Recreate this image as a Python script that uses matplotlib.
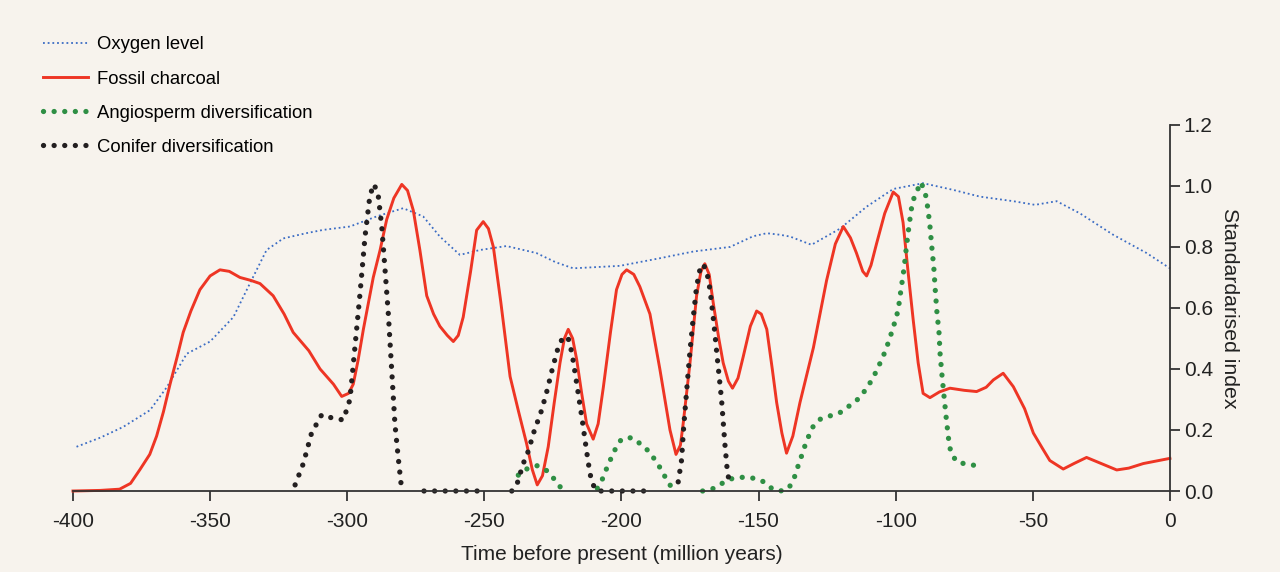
import numpy as np
import matplotlib.pyplot as plt

plt.rcParams['font.family'] = ['Liberation Sans', 'DejaVu Sans']

nan = np.nan

# Oxygen level (blue dotted)
oxy_x = [-398.7, -390, -381.7, -371.9, -365.8, -358.5, -350, -341.5, -335.5, -329.4,
         -323.3, -315, -308.7, -299, -289.3, -279.6, -272.3, -266.2, -258.9, -251.6,
         -241.9, -231, -224, -217.6, -200.6, -186, -173.8, -160.4, -152, -147,
         -142.2, -138.5, -130.7, -120.3, -110.6, -100.9, -90, -79, -69.3, -57.1,
         -49.2, -41.3, -32.8, -20.7, -8.5, 0]
oxy_y = [0.145, 0.175, 0.21, 0.265, 0.34, 0.45, 0.49, 0.57, 0.68, 0.79,
         0.828, 0.845, 0.856, 0.867, 0.90, 0.927, 0.90, 0.834, 0.774, 0.79,
         0.803, 0.78, 0.75, 0.73, 0.738, 0.763, 0.785, 0.80, 0.835, 0.845,
         0.84, 0.834, 0.807, 0.86, 0.932, 0.99, 1.009, 0.987, 0.965, 0.95,
         0.938, 0.95, 0.91, 0.84, 0.78, 0.73]

# Fossil charcoal (red)
char_x = [-400, -390, -383, -379, -375.6, -372, -369.5, -367, -364.6, -362,
          -359.8, -357, -353.7, -350, -346.4, -343, -339.1, -335, -331.8, -327,
          -323, -319.7, -314, -309.9, -305, -302, -299.5, -297.8, -296, -294.1,
          -290.5, -288, -285.6, -283, -280.1, -278, -275.9, -273.5, -271, -268.5,
          -266.2, -263.5, -261.3, -259.5, -257.7, -255, -252.8, -250.4, -248.5, -246.7,
          -244, -240.6, -237.5, -234.6, -232.5, -230.7, -228.8, -226.7, -224.5, -222.4,
          -220.8, -219.4, -217.8, -216.3, -214.5, -212.7, -210.3, -208.5, -206.6, -204,
          -201.8, -199.8, -198.1, -195.5, -193.3, -189.6, -186, -182.3, -180.1, -178.5,
          -177.5, -175, -172.6, -171, -169.6, -168, -166.5, -164.5, -162.9, -161,
          -159.5, -157.5, -155.6, -153, -150.7, -149, -147, -145, -143.4, -141.5,
          -139.8, -137.5, -134.9, -130, -125.2, -122, -119.1, -116.5, -114.3, -112,
          -110.6, -109, -107, -104, -100.9, -99, -97.3, -95.5, -93.6, -91.8,
          -90, -87.5, -84, -80.2, -75, -70.5, -67, -64.4, -60.8, -57.1,
          -53, -49.8, -46.5, -43.8, -38.9, -35, -30.4, -25, -19.4, -15,
          -9.7, 0]
char_y = [0.0, 0.002, 0.006, 0.025, 0.07, 0.12, 0.18, 0.26, 0.35, 0.44,
          0.52, 0.59, 0.66, 0.705, 0.725, 0.72, 0.70, 0.69, 0.68, 0.64,
          0.58, 0.52, 0.46, 0.40, 0.35, 0.31, 0.32, 0.35, 0.43, 0.53,
          0.70, 0.79, 0.89, 0.96, 1.005, 0.985, 0.92, 0.79, 0.64, 0.58,
          0.54, 0.51, 0.49, 0.51, 0.57, 0.72, 0.855, 0.883, 0.86, 0.80,
          0.62, 0.375, 0.26, 0.156, 0.07, 0.02, 0.05, 0.145, 0.29, 0.42,
          0.50, 0.53, 0.50, 0.43, 0.32, 0.22, 0.17, 0.22, 0.34, 0.52,
          0.66, 0.71, 0.725, 0.71, 0.67, 0.58, 0.40, 0.20, 0.12, 0.15,
          0.22, 0.42, 0.64, 0.72, 0.745, 0.71, 0.615, 0.50, 0.42, 0.36,
          0.337, 0.37, 0.44, 0.54, 0.59, 0.58, 0.53, 0.40, 0.29, 0.19,
          0.124, 0.18, 0.29, 0.47, 0.69, 0.81, 0.867, 0.83, 0.78, 0.72,
          0.705, 0.74, 0.81, 0.91, 0.98, 0.965, 0.88, 0.72, 0.56, 0.42,
          0.32, 0.306, 0.325, 0.337, 0.33, 0.326, 0.34, 0.364, 0.386, 0.342,
          0.27, 0.19, 0.14, 0.10, 0.072, 0.09, 0.11, 0.09, 0.069, 0.075,
          0.09, 0.107]

# Angiosperm diversification (green dots)
ang_x = [-237.6, -234.6, -230.7, -227.3, -224.6, -222.2, -219, nan,
         -208.8, -206.9, -205.4, -203.8, -202.1, -200, -196.3, -193, -190, -187.6,
         -185.4, -183.6, -181.5, nan,
         -170.4, -166.8, -163.3, -159.9, -155.8, -151.9, -148, -145, -142, -139,
         -137.1, -135.9, -134.5, -133.3, -131.9, -130.3, -127.6, -124, -120.1, -116.9,
         -113.9, -111.2, -109.1, -107.2, -105.5, -103.9, -102.6, -101.4, -100.2, -99.1,
         -98, -96.9, -96, -95, -93.9, -92.4, -90.8, -89.3, -88.6, -87.6,
         -86.9, -86.1, -85.6, -85, -84.2, -83.8, -83.1, -82.3, -81.5, -80.6,
         -79.9, -77.8, -73.9, -70]
ang_y = [0.052, 0.072, 0.083, 0.067, 0.04, 0.012, 0.0, nan,
         0.009, 0.04, 0.074, 0.107, 0.14, 0.17, 0.175, 0.154, 0.13, 0.10,
         0.069, 0.038, 0.009, nan,
         0.0, 0.007, 0.025, 0.04, 0.045, 0.042, 0.03, 0.007, 0.0, 0.009,
         0.04, 0.074, 0.11, 0.143, 0.176, 0.209, 0.235, 0.246, 0.258, 0.279,
         0.30, 0.329, 0.358, 0.39, 0.423, 0.456, 0.489, 0.522, 0.557, 0.593,
         0.664, 0.733, 0.807, 0.878, 0.947, 0.98, 1.012, 0.98, 0.947, 0.878,
         0.807, 0.733, 0.663, 0.59, 0.519, 0.449, 0.378, 0.304, 0.233, 0.162,
         0.127, 0.096, 0.087, 0.083]

# Conifer diversification (black dots)
con_x = [-319, -316, -313, -309.3, -305, -301.4, -299, -297.2, -295.3, -293.5,
         -291.7, -290.2, -288.7, -287.4, -286.2, -285, -283.8, -282.6, -281.4, -280.2, nan,
         -272, -251, nan,
         -240, -238, -235.8, -234, -231.9, -229.1, -227.1, -225.2, -223, -221.2,
         -219.4, -218, -216.1, -214.3, -212.7, -211.5, -210.5, -209, -190, nan,
         -179.3, -178.1, -177.3, -176.3, -175, -173.8, -172.6, -171.4, -170.4, -169,
         -167.7, -166.3, -165.1, -163.5, -162.3, -161.3, -160.2]
con_y = [0.02, 0.09, 0.19, 0.25, 0.238, 0.233, 0.30, 0.47, 0.65, 0.834,
         0.97, 1.006, 0.97, 0.867, 0.725, 0.58, 0.40, 0.22, 0.11, 0.01, nan,
         0.0, 0.0, nan,
         0.0, 0.025, 0.09, 0.13, 0.194, 0.265, 0.33, 0.40, 0.473, 0.506,
         0.50, 0.45, 0.34, 0.233, 0.13, 0.058, 0.023, 0.0, 0.0, nan,
         0.03, 0.10, 0.21, 0.32, 0.46, 0.57, 0.67, 0.725, 0.744, 0.725,
         0.66, 0.55, 0.44, 0.30, 0.156, 0.056, 0.02]

x_ticks = [-400, -350, -300, -250, -200, -150, -100, -50, 0]
y_ticks = [0.0, 0.2, 0.4, 0.6, 0.8, 1.0, 1.2]

bg = '#f7f3ed'
axis_col = '#333333'

fig = plt.figure(figsize=(12.8, 5.72), dpi=100, facecolor=bg)
ax = fig.add_axes([0.057, 0.1416, 0.857, 0.64], facecolor=bg)

dots = (0, (0.01, 2.0))
ax.plot(oxy_x, oxy_y, color='#3b6cc4', lw=1.3, linestyle=(0, (1, 1.6)),
        label='Oxygen level', clip_on=False)
ax.plot(char_x, char_y, color='#ee3524', lw=2.1, label='Fossil charcoal',
        clip_on=False, solid_joinstyle='round')
ax.plot(ang_x, ang_y, color='#2f8f44', lw=3.8, linestyle=dots,
        dash_capstyle='round', label='Angiosperm diversification', clip_on=False)
ax.plot(con_x, con_y, color='#231f20', lw=3.8, linestyle=dots,
        dash_capstyle='round', label='Conifer diversification', clip_on=False)

ax.set_xlim(-400, 0)
ax.set_ylim(0, 1.2)
ax.set_xticks(x_ticks)
ax.set_xticklabels([str(t) for t in x_ticks])
ax.set_yticks(y_ticks)
ax.set_yticklabels([f'{t:.1f}' for t in y_ticks])

ax.yaxis.tick_right()
ax.yaxis.set_label_position('right')
for s in ['top', 'left']:
    ax.spines[s].set_visible(False)
for s in ['bottom', 'right']:
    ax.spines[s].set_color(axis_col)
    ax.spines[s].set_linewidth(1.3)
ax.tick_params(axis='both', direction='out', length=7, width=1.3,
               color=axis_col, labelcolor='#222222', labelsize=15)
ax.tick_params(axis='x', pad=8)
ax.tick_params(axis='y', pad=3)

ax.set_xlabel('Time before present (million years)', fontsize=15, color='#222222', labelpad=10)
ax.set_ylabel('Standardarised index', fontsize=15.3, color='#222222',
              rotation=270, labelpad=19)

fig.legend(loc='upper left', bbox_to_anchor=(0.0336, 0.9365), frameon=False,
           fontsize=13.3, handlelength=2.45, handletextpad=0.45,
           labelspacing=0.93, borderpad=0, borderaxespad=0)

fig.savefig('out.png', dpi=100, facecolor=bg)
